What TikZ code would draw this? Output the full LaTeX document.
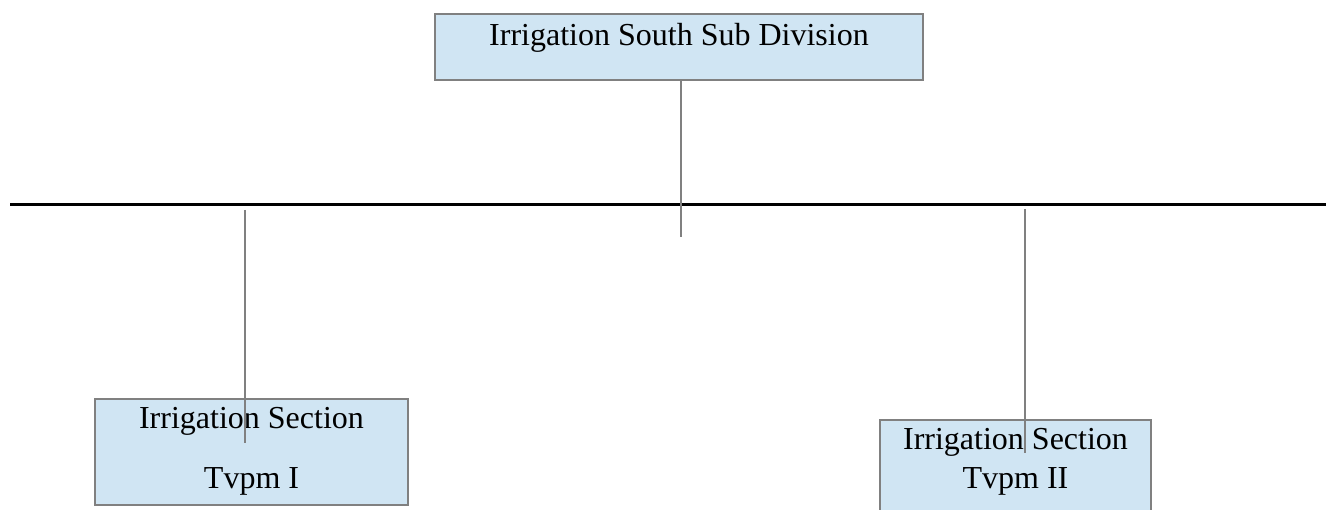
\documentclass[tikz,border=0pt]{standalone}
\usepackage{fontspec}
\setmainfont{Liberation Serif}
\definecolor{boxfill}{HTML}{D0E5F3}
\definecolor{boxline}{HTML}{808080}
\tikzset{
  orgbox/.style={draw=boxline, fill=boxfill, line width=1.5pt, inner sep=0pt},
  boxtext/.style={inner sep=0pt, font=\fontsize{32}{38}\selectfont},
  conn/.style={draw=boxline, line width=1.5pt},
  mainline/.style={draw=black, line width=3pt}
}
\begin{document}
\begin{tikzpicture}[x=1pt,y=-1pt]
\useasboundingbox (0,0) rectangle (1326,510);
\clip (0,0) rectangle (1326,510);
% boxes
\node[orgbox, minimum width=488pt, minimum height=66pt] (top) at (679,47) {};
\node[orgbox, minimum width=313pt, minimum height=106pt] (left) at (251.5,452) {};
\node[orgbox, minimum width=271pt, minimum height=120pt] (right) at (1015.5,480) {};
% texts
\node[boxtext] (toptext) at (679,38) {Irrigation South Sub Division};
\node[boxtext] (lefttext1) at (251.5,421) {Irrigation Section};
\node[boxtext] (lefttext2) at (251.5,481) {Tvpm I};
\node[boxtext] (righttext1) at (1015.5,442) {Irrigation Section};
\node[boxtext] (righttext2) at (1015.5,481) {Tvpm II};
% coordinates
\coordinate (hl) at (10,205);
\coordinate (hr) at (1326,205);
\coordinate (topend) at (681,237);
\coordinate (lstart) at (245,210);
\coordinate (lend) at (245,443);
\coordinate (rstart) at (1025,209);
\coordinate (rend) at (1025,453);
% connectors
\draw[mainline] (hl) -- (hr);
\draw[conn] (top.south -| topend) -- (topend);
\draw[conn] (lstart) -- (lend);
\draw[conn] (rstart) -- (rend);
\end{tikzpicture}
\end{document}
